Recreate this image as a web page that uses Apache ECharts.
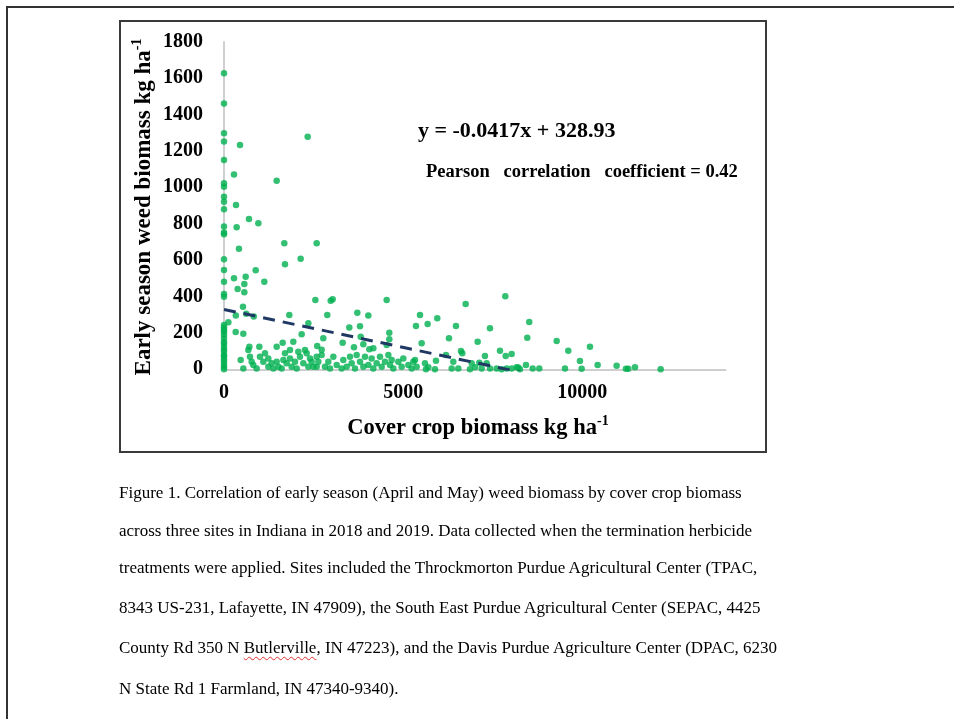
<!DOCTYPE html>
<html>
<head>
<meta charset="utf-8">
<script src="https://cdn.jsdelivr.net/npm/echarts@6/dist/echarts.min.js"></script>
<style>
html,body{margin:0;padding:0;background:#fff;}
#page{position:relative;width:954px;height:719px;overflow:hidden;background:#fff;}
#chart{position:absolute;left:0;top:0;width:954px;height:719px;}
.frameTop{position:absolute;left:6px;top:6px;width:948px;height:2px;background:#333;}
.frameLeft{position:absolute;left:6px;top:6px;width:2px;height:713px;background:#333;}
.chartBox{position:absolute;left:119px;top:20px;width:648px;height:433px;box-sizing:border-box;border:2px solid #3a3a3a;}
.cap{position:absolute;left:119px;height:20px;line-height:20px;font-family:"Liberation Serif","Times New Roman",serif;font-size:17px;color:#000;white-space:nowrap;}
.wavy{text-decoration:underline wavy #e03030;text-decoration-thickness:1px;text-underline-offset:3px;}
</style>
</head>
<body>
<div id="page">
  <div class="frameTop"></div>
  <div class="frameLeft"></div>
  <div class="chartBox"></div>
  <div id="chart"></div>
  <div class="cap" style="top:483px">Figure 1. Correlation of early season (April and May) weed biomass by cover crop biomass</div>
  <div class="cap" style="top:521px">across three sites in Indiana in 2018 and 2019. Data collected when the termination herbicide</div>
  <div class="cap" style="top:558px">treatments were applied. Sites included the Throckmorton Purdue Agricultural Center (TPAC,</div>
  <div class="cap" style="top:598px">8343 US-231, Lafayette, IN 47909), the South East Purdue Agricultural Center (SEPAC, 4425</div>
  <div class="cap" style="top:638px">County Rd 350 N <span class="wavy">Butlerville</span>, IN 47223), and the Davis Purdue Agriculture Center (DPAC, 6230</div>
  <div class="cap" style="top:679px">N State Rd 1 Farmland, IN 47340-9340).</div>
</div>
<script>
// ---- data ----
const coverCrop = [
  0,0,0,0,0,0,0,0,0,0,0,0,0,0,0,0,0,0,0,0,0,0,0,0,0,0,0,0,0,0,0,0,0,0,0,0,
  446,2335,279,1470,335,698,958,353,1683,2586,418,1702,2139,884,279,605,1125,567,381,567,2549,2977,3032,4539,7850,6743,530,330,620,830,1823,2882,3720,4027,5469,5951,121,2353,3497,3795,5357,5683,6473,7422,8518,
  326,539,2167,1934,1637,1470,3311,3814,2771,4613,4613,2600,2725,3627,3888,4055,4167,4539,6278,5516,7078,8463,9283,9607,10212,707,986,679,1842,2073,2260,1144,1702,2307,6613,6649,7701,8027,7282,7860,6194,
  465,540,725,772,818,911,1004,1097,1237,1237,1330,1377,1470,1516,1609,1656,1749,1842,1888,1981,2028,2121,2214,2353,2446,2586,2586,
  2400,2493,2632,2725,2818,2911,2958,3051,3144,3283,3330,3423,3516,3562,3655,3702,3795,3888,3934,4027,4120,4167,4260,4353,4400,4492,4586,4632,4679,4725,4865,4958,5004,5144,5237,5330,5376,
  5283,5608,5636,5702,5887,5915,6353,6398,6538,6864,6911,7003,7124,7190,7329,7422,7608,7748,7887,8166,
  8426,8027,8259,8212,8613,8798,9515,9933,9980,10426,10956,11216,11281,11468,12185
];
const weed = [
  1626,1461,1297,1251,1150,1022,1003,948,921,879,784,751,742,604,546,481,414,399,243,230,216,205,188,170,152,140,124,110,97,79,70,55,42,25,12,0,
  1232,1278,1071,1036,903,826,802,780,692,692,663,577,608,544,500,509,481,469,441,423,381,377,385,381,401,359,344,295,305,290,298,298,311,295,298,280,259,253,229,237,238,249,238,225,260,
  205,196,192,152,146,124,146,179,170,201,165,128,108,121,137,110,115,133,170,143,152,174,155,102,124,124,124,106,106,97,106,88,88,88,101,88,102,84,73,73,79,
  51,5,69,42,24,5,69,42,60,14,33,5,42,14,5,51,33,60,14,42,5,69,33,14,42,69,14,
  60,14,42,79,14,42,5,69,24,5,51,14,69,33,5,79,42,14,69,24,60,5,33,69,14,42,79,24,51,5,42,14,60,24,5,51,14,
  42,33,0,11,0,47,5,42,5,0,33,11,36,5,33,5,5,0,5,11,
  24,5,0,10,5,5,5,46,3,24,20,3,3,11,0
];
const xTickLabels = [0, 5000, 10000];
const yTickLabels = [0, 200, 400, 600, 800, 1000, 1200, 1400, 1600, 1800];
const trendSlope = -0.0417;
const trendIntercept = 328.93;
const equationText = 'y = -0.0417x + 328.93';
const pearsonText = 'Pearson   correlation   coefficient = 0.42';
const xTitle = 'Cover crop biomass kg ha';
const yTitle = 'Early season weed biomass kg ha';
const unitSup = '-1';

const points = coverCrop.map((x, i) => [x, weed[i]]);
const xMaxData = Math.max.apply(null, coverCrop);
const trend = [[0, trendIntercept], [xMaxData, trendSlope * xMaxData + trendIntercept]];

const FONT = '"Liberation Serif", "Times New Roman", serif';
const chart = echarts.init(document.getElementById('chart'), null, {renderer: 'canvas'});
const titleRich = {
  t: {fontFamily: FONT, fontWeight: 'bold', fontSize: 22.5, lineHeight: 26, fill: '#000', verticalAlign: 'bottom'},
  s: {fontFamily: FONT, fontWeight: 'bold', fontSize: 14, lineHeight: 14, fill: '#000', verticalAlign: 'top'}
};
const yTitleRich = {
  t: {fontFamily: FONT, fontWeight: 'bold', fontSize: 23, lineHeight: 26, fill: '#000', verticalAlign: 'bottom'},
  s: {fontFamily: FONT, fontWeight: 'bold', fontSize: 14, lineHeight: 14, fill: '#000', verticalAlign: 'top'}
};
chart.setOption({
  animation: false,
  backgroundColor: 'transparent',
  grid: {left: 224, top: 41.7, right: 228.3, bottom: 349.7, containLabel: false},
  xAxis: {
    type: 'value', min: 0, max: 14000, interval: 5000,
    axisLine: {show: true, onZero: false, lineStyle: {color: '#BFBFBF', width: 1.5}},
    axisTick: {show: false}, splitLine: {show: false},
    axisLabel: {
      margin: 14, color: '#000', fontFamily: FONT, fontWeight: 'bold', fontSize: 20,
      formatter: v => xTickLabels.indexOf(v) >= 0 ? String(v) : ''
    }
  },
  yAxis: {
    type: 'value', min: 0, max: 1800, interval: 200,
    axisLine: {show: true, onZero: false, lineStyle: {color: '#BFBFBF', width: 1.5}},
    axisTick: {show: false}, splitLine: {show: false},
    axisLabel: {
      margin: 21, color: '#000', fontFamily: FONT, fontWeight: 'bold', fontSize: 20,
      formatter: v => yTickLabels.indexOf(v) >= 0 ? String(v) : ''
    }
  },
  series: [
    {
      type: 'scatter', data: points, symbol: 'circle', symbolSize: 6.5,
      itemStyle: {color: '#00B050'}, z: 2
    },
    {
      type: 'line', data: trend, showSymbol: false, symbol: 'none', clip: true,
      lineStyle: {color: '#203864', width: 3, type: [12, 8]}, z: 3
    }
  ],
  graphic: [
    {
      type: 'text', x: 418, y: 131,
      style: {text: equationText, font: 'bold 22px ' + FONT, fill: '#000', align: 'left', verticalAlign: 'middle'}
    },
    {
      type: 'text', x: 426, y: 172,
      style: {text: pearsonText, font: 'bold 18.5px ' + FONT, fill: '#000', align: 'left', verticalAlign: 'middle'}
    },
    {
      type: 'text', x: 478, y: 427,
      style: {text: '{t|' + xTitle + '}{s|' + unitSup + '}', align: 'center', verticalAlign: 'middle', rich: titleRich}
    },
    {
      type: 'text', x: 143, y: 207, rotation: Math.PI / 2,
      style: {text: '{t|' + yTitle + '}{s|' + unitSup + '}', align: 'center', verticalAlign: 'middle', rich: yTitleRich}
    }
  ]
});
</script>
</body>
</html>
